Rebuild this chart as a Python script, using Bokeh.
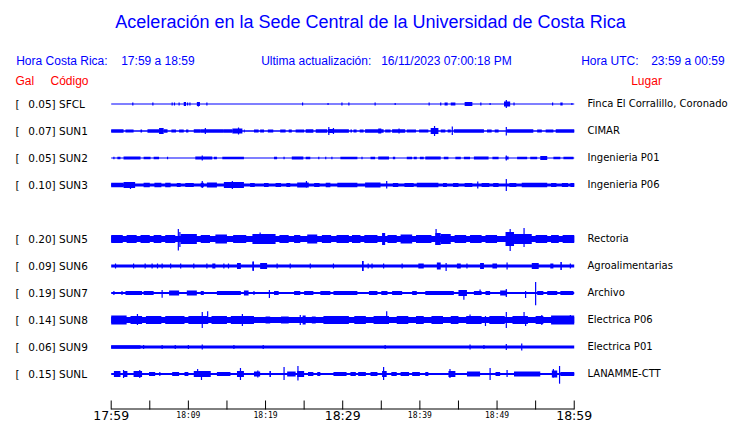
from bokeh.plotting import figure
from bokeh.models import Range1d, ColumnDataSource
from bokeh.core.properties import value
from bokeh.embed import file_html
from bokeh.resources import INLINE

# ---------------- data ----------------
STATIONS = ["SFCL", "SUN1", "SUN2", "SUN3", "SUN5", "SUN6", "SUN7", "SUN8", "SUN9", "SUNL"]
ROWS = [0, 1, 2, 3, 5, 6, 7, 8, 9, 10]
PEAK_GAL = [0.05, 0.07, 0.05, 0.10, 0.20, 0.09, 0.19, 0.14, 0.06, 0.15]
PLACES = ["Finca El Corralillo, Coronado", "CIMAR", "Ingenieria P01", "Ingenieria P06",
          "Rectoria", "Agroalimentarias", "Archivo", "Electrica P06", "Electrica P01", "LANAMME-CTT"]

# background noise half-amplitude of each trace
BASE = [0.5, 0.7, 0.5, 1.5, 3.0, 1.5, 1.0, 3.0, 1.5, 1.0]

# bursts: (start minute, end minute, half amplitude)
BURSTS = {
    "SFCL": [(9.4, 9.7, 2), (11.1, 11.5, 2), (43.2, 43.6, 1.5), (44.0, 44.6, 1.5), (45.8, 46.8, 2),
             (50.9, 51.7, 2.5), (58.2, 58.5, 1.5)],
    "SUN1": [(0, 1.6, 1.7), (1.85, 2.9, 1.5), (3.8, 4.0, 1.5), (4.7, 6.2, 1.7), (6.2, 6.8, 3), (6.8, 7.3, 1.7),
             (7.8, 8.4, 1.5), (8.8, 9.4, 1.5), (9.7, 10.0, 1.5), (10.7, 11.6, 1.7), (11.6, 14.6, 1.8),
             (14.6, 15.7, 1.7), (15.7, 17.0, 2.5), (17.2, 17.3, 1.5), (18.5, 19.1, 1.5), (19.3, 19.8, 1.5),
             (20.3, 21.0, 1.5), (21.9, 22.6, 1.5), (23.0, 23.4, 1.5), (23.9, 25.0, 1.5), (25.2, 26.2, 1.7),
             (26.5, 28.0, 1.7), (28.1, 28.8, 2), (28.8, 30.8, 1.7), (31.0, 31.2, 1.5), (31.4, 31.8, 1.5),
             (32.2, 32.7, 1.5), (32.9, 35.3, 1.7), (34.6, 35.0, 2.5), (35.5, 36.2, 1.5), (36.4, 38.1, 1.7),
             (38.3, 39.5, 1.5), (39.9, 41.1, 1.5), (41.4, 42.4, 3), (42.7, 43.3, 1.5), (43.6, 44.0, 1.5),
             (44.4, 48.3, 1.7), (48.7, 49.3, 1.5), (49.7, 50.2, 1.5), (51.3, 54.7, 1.7), (55.2, 55.8, 1.5),
             (56.3, 57.3, 1.5), (57.6, 60, 1.7)],
    "SUN2": [(0.8, 1.2, 1.3), (1.6, 3.8, 1.5), (4.2, 5.1, 1.3), (5.5, 6.2, 1.3), (10.9, 13.1, 1.5),
             (13.3, 13.7, 1.3), (14.4, 17.2, 1.3), (21.1, 21.5, 1.3), (23.4, 24.9, 1.5), (25.2, 25.8, 1.3),
             (29.7, 31.9, 1.3), (33.6, 34.2, 1.3), (34.6, 36.0, 1.5), (36.5, 36.8, 1.3), (38.3, 39.0, 1.3),
             (39.2, 39.6, 1.3), (40.0, 40.5, 1.3), (40.7, 42.7, 1.5), (43.1, 43.7, 1.3), (44.6, 45.3, 1.3),
             (45.7, 46.5, 1.3), (47.0, 48.9, 1.5), (49.4, 50.2, 1.3), (51.1, 51.5, 1.5), (52.6, 53.9, 1.3),
             (54.3, 55.2, 1.3), (55.6, 56.5, 2), (57.3, 58.2, 1.3), (58.6, 59.9, 1.3)],
    "SUN3": [(0, 1.6, 2.3), (1.6, 3.1, 3), (4.2, 5.0, 2.3), (5.6, 6.5, 2.3), (7.0, 7.7, 2.3), (8.5, 9.0, 2),
             (9.6, 10.7, 2), (11.6, 12.0, 2.3), (12.4, 13.7, 2.5), (14.6, 17.2, 3), (18.0, 18.6, 2),
             (19.8, 20.4, 2), (21.3, 22.0, 2), (22.7, 23.2, 2), (24.1, 25.6, 2.5), (26.3, 27.0, 2),
             (27.8, 28.4, 2.3), (29.3, 31.9, 2.3), (32.9, 34.9, 2.5), (36.5, 37.2, 2), (38.0, 39.2, 2),
             (39.6, 42.4, 2.3), (43.0, 43.5, 2), (44.3, 45.0, 2), (45.8, 46.8, 2), (48.0, 49.0, 2),
             (49.5, 50.2, 2), (51.6, 52.5, 2), (53.2, 56.5, 2.3), (57.0, 57.7, 2), (58.4, 59.2, 2),
             (59.5, 60, 2)],
    "SUN5": [(0, 1.5, 4), (2.0, 3.3, 4), (3.8, 5.0, 4), (5.5, 6.5, 4), (7.0, 8.3, 4), (9.0, 11.1, 5),
             (11.6, 12.8, 4), (13.5, 15.0, 4.5), (15.8, 17.5, 4), (18.3, 21.3, 5), (21.8, 23.0, 4),
             (23.7, 24.5, 4), (25.4, 26.7, 4.5), (27.3, 28.5, 4), (29.2, 30.8, 4), (31.2, 32.3, 4),
             (32.8, 34.5, 4), (35.1, 35.5, 6), (35.8, 37.0, 4), (37.5, 39.0, 4.5), (39.5, 41.5, 4),
             (42.0, 42.7, 6), (42.7, 44.0, 5), (44.5, 46.0, 4), (46.5, 48.0, 4), (48.5, 50.0, 4),
             (51.1, 52.2, 7), (52.2, 54.5, 5), (55.0, 56.5, 4), (57.0, 58.0, 4), (58.5, 60, 4)],
    "SUN6": [(13.1, 13.5, 2.5), (16.3, 16.8, 3), (18.3, 18.5, 4.5), (19.3, 20.2, 3), (32.5, 32.7, 5),
             (39.8, 40.5, 2.5), (42.2, 42.7, 3.5), (44.8, 45.3, 2.5), (47.8, 48.3, 3), (49.4, 50.0, 2.5),
             (54.5, 55.4, 3), (56.9, 57.3, 2.5), (58.2, 58.4, 4)],
    "SUN7": [(1.85, 4.0, 2), (4.2, 5.5, 2), (7.5, 8.8, 2.5), (9.8, 11.1, 2.5), (11.6, 12.0, 2), (13.7, 16.8, 2),
             (17.2, 17.8, 2.5), (21.1, 21.7, 2), (23.7, 24.5, 2), (25.0, 26.2, 2), (27.1, 28.4, 2),
             (28.8, 31.9, 2), (33.4, 34.5, 2), (35.0, 35.8, 2), (36.4, 37.7, 2), (39.0, 39.6, 2),
             (40.7, 44.4, 2), (45.0, 46.1, 3), (47.0, 48.0, 2), (48.5, 49.1, 2), (50.4, 51.3, 2.5),
             (55.2, 56.0, 2), (56.5, 57.8, 2), (58.2, 59.9, 2)],
    "SUN8": [(0, 2.0, 4.5), (2.5, 4.0, 4), (4.5, 6.5, 4), (7.0, 9.5, 4), (10.0, 12.5, 4), (13.0, 15.0, 4),
             (15.5, 18.5, 4), (20.0, 20.6, 3.5), (22.0, 23.0, 3.5), (24.8, 25.2, 4.5), (26.0, 26.5, 3.5),
             (27.5, 30.8, 4), (31.5, 33.0, 4), (34.0, 36.0, 4), (37.0, 38.5, 4), (39.5, 40.5, 4),
             (41.5, 43.0, 4), (44.0, 45.0, 4), (46.0, 48.0, 4), (49.0, 51.0, 4), (52.0, 54.0, 4),
             (55.0, 56.0, 4), (57.0, 60, 4.5)],
    "SUN9": [(0, 3.8, 1.8)],
    "SUNL": [(0.35, 1.2, 3), (1.6, 2.1, 3), (2.9, 4.0, 3), (4.9, 5.7, 2), (7.9, 8.8, 2), (9.5, 10.0, 2),
             (10.7, 12.9, 3), (13.7, 15.45, 2), (16.3, 17.2, 3), (18.5, 19.3, 2.5), (20.5, 20.7, 3),
             (22.8, 23.9, 2.5), (24.1, 25.0, 3), (25.5, 26.2, 2), (26.7, 27.1, 2), (28.8, 30.5, 2),
             (31.0, 31.7, 2), (32.0, 33.0, 2), (33.6, 34.5, 2), (35.1, 35.7, 3), (36.3, 37.0, 2),
             (37.5, 38.6, 2), (39.0, 40.0, 2), (40.7, 41.1, 2), (43.7, 44.6, 3), (46.1, 47.8, 2.5),
             (49.8, 50.4, 2), (52.2, 55.6, 2.5), (57.1, 57.8, 3.5), (58.2, 60, 2)],
}

# spikes: (minute, amplitude up, amplitude down)
SPIKES = {
    "SFCL": [(2.8, 1.5, 1.5), (5.4, 1.5, 1.5), (7.9, 1.5, 1.5), (8.2, 1.5, 1.5), (8.8, 1.5, 1.5),
             (9.9, 1.5, 1.5), (10.2, 1.5, 1.5), (11.3, 1.5, 2.5), (12.4, 1.5, 1.5), (24.8, 1.5, 1.5),
             (28.1, 1, 1), (29.9, 1.5, 1.5), (30.8, 1.5, 1.5), (34.2, 1.5, 1.5), (36.8, 1, 1),
             (41.2, 1.5, 1.5), (42.7, 1.5, 1.5), (47.9, 1.5, 1.5), (49.1, 1, 1), (51.2, 4, 4),
             (52.2, 1.5, 1.5), (57.2, 1.5, 1.5), (59.7, 1, 1)],
    "SUN1": [(12.2, 3, 3), (16.5, 3.5, 3.5), (28.2, 4, 4), (28.8, 3, 3), (37.3, 2.5, 2.5), (41.9, 5, 5),
             (44.2, 4.5, 4), (51.2, 4, 4.5)],
    "SUN2": [(0.35, 1.3, 1.3), (7.3, 1.3, 1.3), (11.8, 2.5, 2.5), (22.4, 1.3, 1.3), (26.9, 1.3, 1.3),
             (27.8, 1.3, 1.3), (28.6, 1.3, 1.3), (32.5, 1.3, 1.3), (51.2, 2.5, 2.5)],
    "SUN3": [(2.5, 3, 4), (11.8, 4, 3), (15.7, 4, 4), (25.3, 4, 2.5), (35.7, 4, 3.5), (47.5, 3.5, 3.5),
             (51.2, 6, 6)],
    "SUN5": [(8.7, 10, 11.5), (8.9, 7, 8), (19.3, 6.5, 5), (42.1, 10, 6), (51.7, 10, 12), (53.5, 11, 8)],
    "SUN6": [(0.56, 2.5, 2.5), (2.9, 2.5, 2.5), (4.4, 2.5, 2.5), (5.3, 2.5, 2.5), (6.0, 2.5, 2.5),
             (6.6, 2.5, 2.5), (7.7, 2.5, 2.5), (9.0, 2.5, 2.5), (10.7, 2.5, 2.5), (12.4, 2.5, 2.5),
             (14.6, 2.5, 2.5), (15.2, 2.5, 2.5), (18.4, 4.3, 5), (21.5, 2.5, 2.5), (23.2, 2.5, 2.5),
             (25.8, 2.5, 2.5), (28.8, 2.5, 2.5), (32.6, 5, 5), (33.3, 2.5, 2.5), (33.8, 2.5, 2.5),
             (35.3, 2.5, 2.5), (37.7, 2.5, 2.5), (43.4, 3, 5), (46.1, 2.5, 2.5), (51.3, 3.5, 3.5),
             (59.5, 2.5, 2.5)],
    "SUN7": [(0.35, 2, 2), (1.4, 2, 2), (6.6, 3, 4.7), (18.5, 2, 2), (20.5, 3, 5), (45.7, 3, 6.7),
             (47.8, 3.5, 2), (51.2, 4, 4), (53.7, 2, 5), (55.0, 11, 12.3)],
    "SUN8": [(3.4, 6, 5), (11.8, 8, 8), (12.5, 8.7, 4), (17.0, 6, 6), (24.5, 5, 5), (35.7, 8.7, 4),
             (46.5, 5.5, 4), (48.5, 4, 6), (51.2, 8, 8), (53.5, 8, 4), (53.7, 4, 6), (55.8, 5, 5),
             (59.5, 5, 4)],
    "SUN9": [(4.2, 2, 2), (6.6, 2, 2), (8.3, 2, 2), (10.0, 2, 2), (11.8, 2.5, 2.5), (15.9, 2, 2),
             (19.7, 2, 2), (35.5, 2, 2), (46.5, 2.5, 2.5), (48.3, 2, 2), (51.2, 3, 3), (53.2, 3.5, 3.5)],
    "SUNL": [(1.6, 4, 4), (3.7, 4, 4), (6.3, 2, 2), (11.2, 5, 3), (11.7, 3, 6), (16.75, 6, 6),
             (19.0, 3.5, 3.5), (22.4, 7, 6), (24.2, 8, 6.5), (35.3, 7, 6), (43.9, 5, 4), (49.1, 6, 6),
             (51.3, 4, 3), (57.3, 5, 3.5), (58.1, 8, 9.7)],
}

SPAN_MIN = 60
TICK_MIN = [0, 5, 10, 15, 20, 25, 30, 35, 40, 45, 50, 55, 60]
BIG_LABELS = {0: "17:59", 30: "18:29", 60: "18:59"}
SMALL_LABELS = {10: "18:09", 20: "18:19", 40: "18:39", 50: "18:49"}

TITLE = "Aceleración en la Sede Central de la Universidad de Costa Rica"

# ---------------- layout ----------------
W, H = 740, 423
PX_PER_MIN = 7.717
T0_PX = 110.7
ROW0, ROW_STEP = 103.5, 27
AXIS_Y = 409
BLUE = "#0000ff"
RED = "#ff0000"

p = figure(width=W, height=H, output_backend="svg", toolbar_location=None,
           x_range=Range1d(-T0_PX / PX_PER_MIN, (W - T0_PX) / PX_PER_MIN),
           y_range=Range1d(H, 0), x_axis_type=None, y_axis_type=None,
           min_border=0, outline_line_color=None)
p.extra_x_ranges = {"px": Range1d(0, W)}
p.background_fill_color = "white"

# traces
ql, qr, qt, qb = [], [], [], []
sx, sy0, sy1 = [], [], []
for name, row, base in zip(STATIONS, ROWS, BASE):
    yc = ROW0 + ROW_STEP * row
    ql.append(0); qr.append(SPAN_MIN); qt.append(yc - base); qb.append(yc + base)
    for t0, t1, h in BURSTS[name]:
        ql.append(t0); qr.append(t1); qt.append(yc - h); qb.append(yc + h)
    for t, up, dn in SPIKES[name]:
        sx.append(t); sy0.append(yc - up); sy1.append(yc + dn)

p.quad(left="left", right="right", top="top", bottom="bottom",
       source=ColumnDataSource(dict(left=ql, right=qr, top=qt, bottom=qb)),
       fill_color=BLUE, line_color=None)
p.segment(x0="x", y0="y0", x1="x", y1="y1",
          source=ColumnDataSource(dict(x=sx, y0=sy0, y1=sy1)),
          line_color=BLUE, line_width=1.2)

# time axis
p.segment(x0=[0], y0=[AXIS_Y - 0.5], x1=[SPAN_MIN], y1=[AXIS_Y - 0.5], line_color="black", line_width=1)
p.segment(x0=TICK_MIN, y0=[AXIS_Y - 9] * len(TICK_MIN), x1=TICK_MIN, y1=[AXIS_Y] * len(TICK_MIN),
          line_color="black", line_width=1)
p.text(x=list(BIG_LABELS.keys()), y=[AXIS_Y + 5.5] * len(BIG_LABELS), text=list(BIG_LABELS.values()),
       text_font=value("DejaVu Sans"), text_font_size="12.5px", text_align="center",
       text_baseline="middle", text_color="black")
p.text(x=list(SMALL_LABELS.keys()), y=[AXIS_Y + 6] * len(SMALL_LABELS), text=list(SMALL_LABELS.values()),
       text_font=value("DejaVu Sans Mono"), text_font_size="8px", text_align="center",
       text_baseline="middle", text_color="black")

# texts (x in page pixels)
def txt(x, y, s, size, color, font="Liberation Sans", align="left"):
    p.text(x=[x], y=[y], text=[s], x_range_name="px", text_font=value(font),
           text_font_size=size, text_color=color, text_align=align, text_baseline="middle")

txt(370, 21, TITLE, "18px", BLUE, align="center")
txt(15.7, 60.7, "Hora Costa Rica:", "12px", BLUE)
txt(120.7, 60.7, "17:59 a 18:59", "12px", BLUE)
txt(260.7, 60.7, "Ultima actualización:", "12px", BLUE)
txt(380.7, 60.7, "16/11/2023 07:00:18 PM", "12px", BLUE)
txt(580.7, 60.7, "Hora UTC:", "12px", BLUE)
txt(650.7, 60.7, "23:59 a 00:59", "12px", BLUE)
txt(15, 80.7, "Gal", "12px", RED)
txt(50, 80.7, "Código", "12px", RED)
txt(630.7, 80.7, "Lugar", "12px", RED)

for name, row, gal, place in zip(STATIONS, ROWS, PEAK_GAL, PLACES):
    yc = ROW0 + ROW_STEP * row - 0.5
    txt(15, yc, "[", "10.5px", "black", font="DejaVu Sans")
    txt(27.7, yc, f"{gal:.2f}] {name}", "10.5px", "black", font="DejaVu Sans")
    txt(587, yc, place, "10px", "black", font="DejaVu Sans")

open("out.html", "w").write(file_html(p, INLINE))
